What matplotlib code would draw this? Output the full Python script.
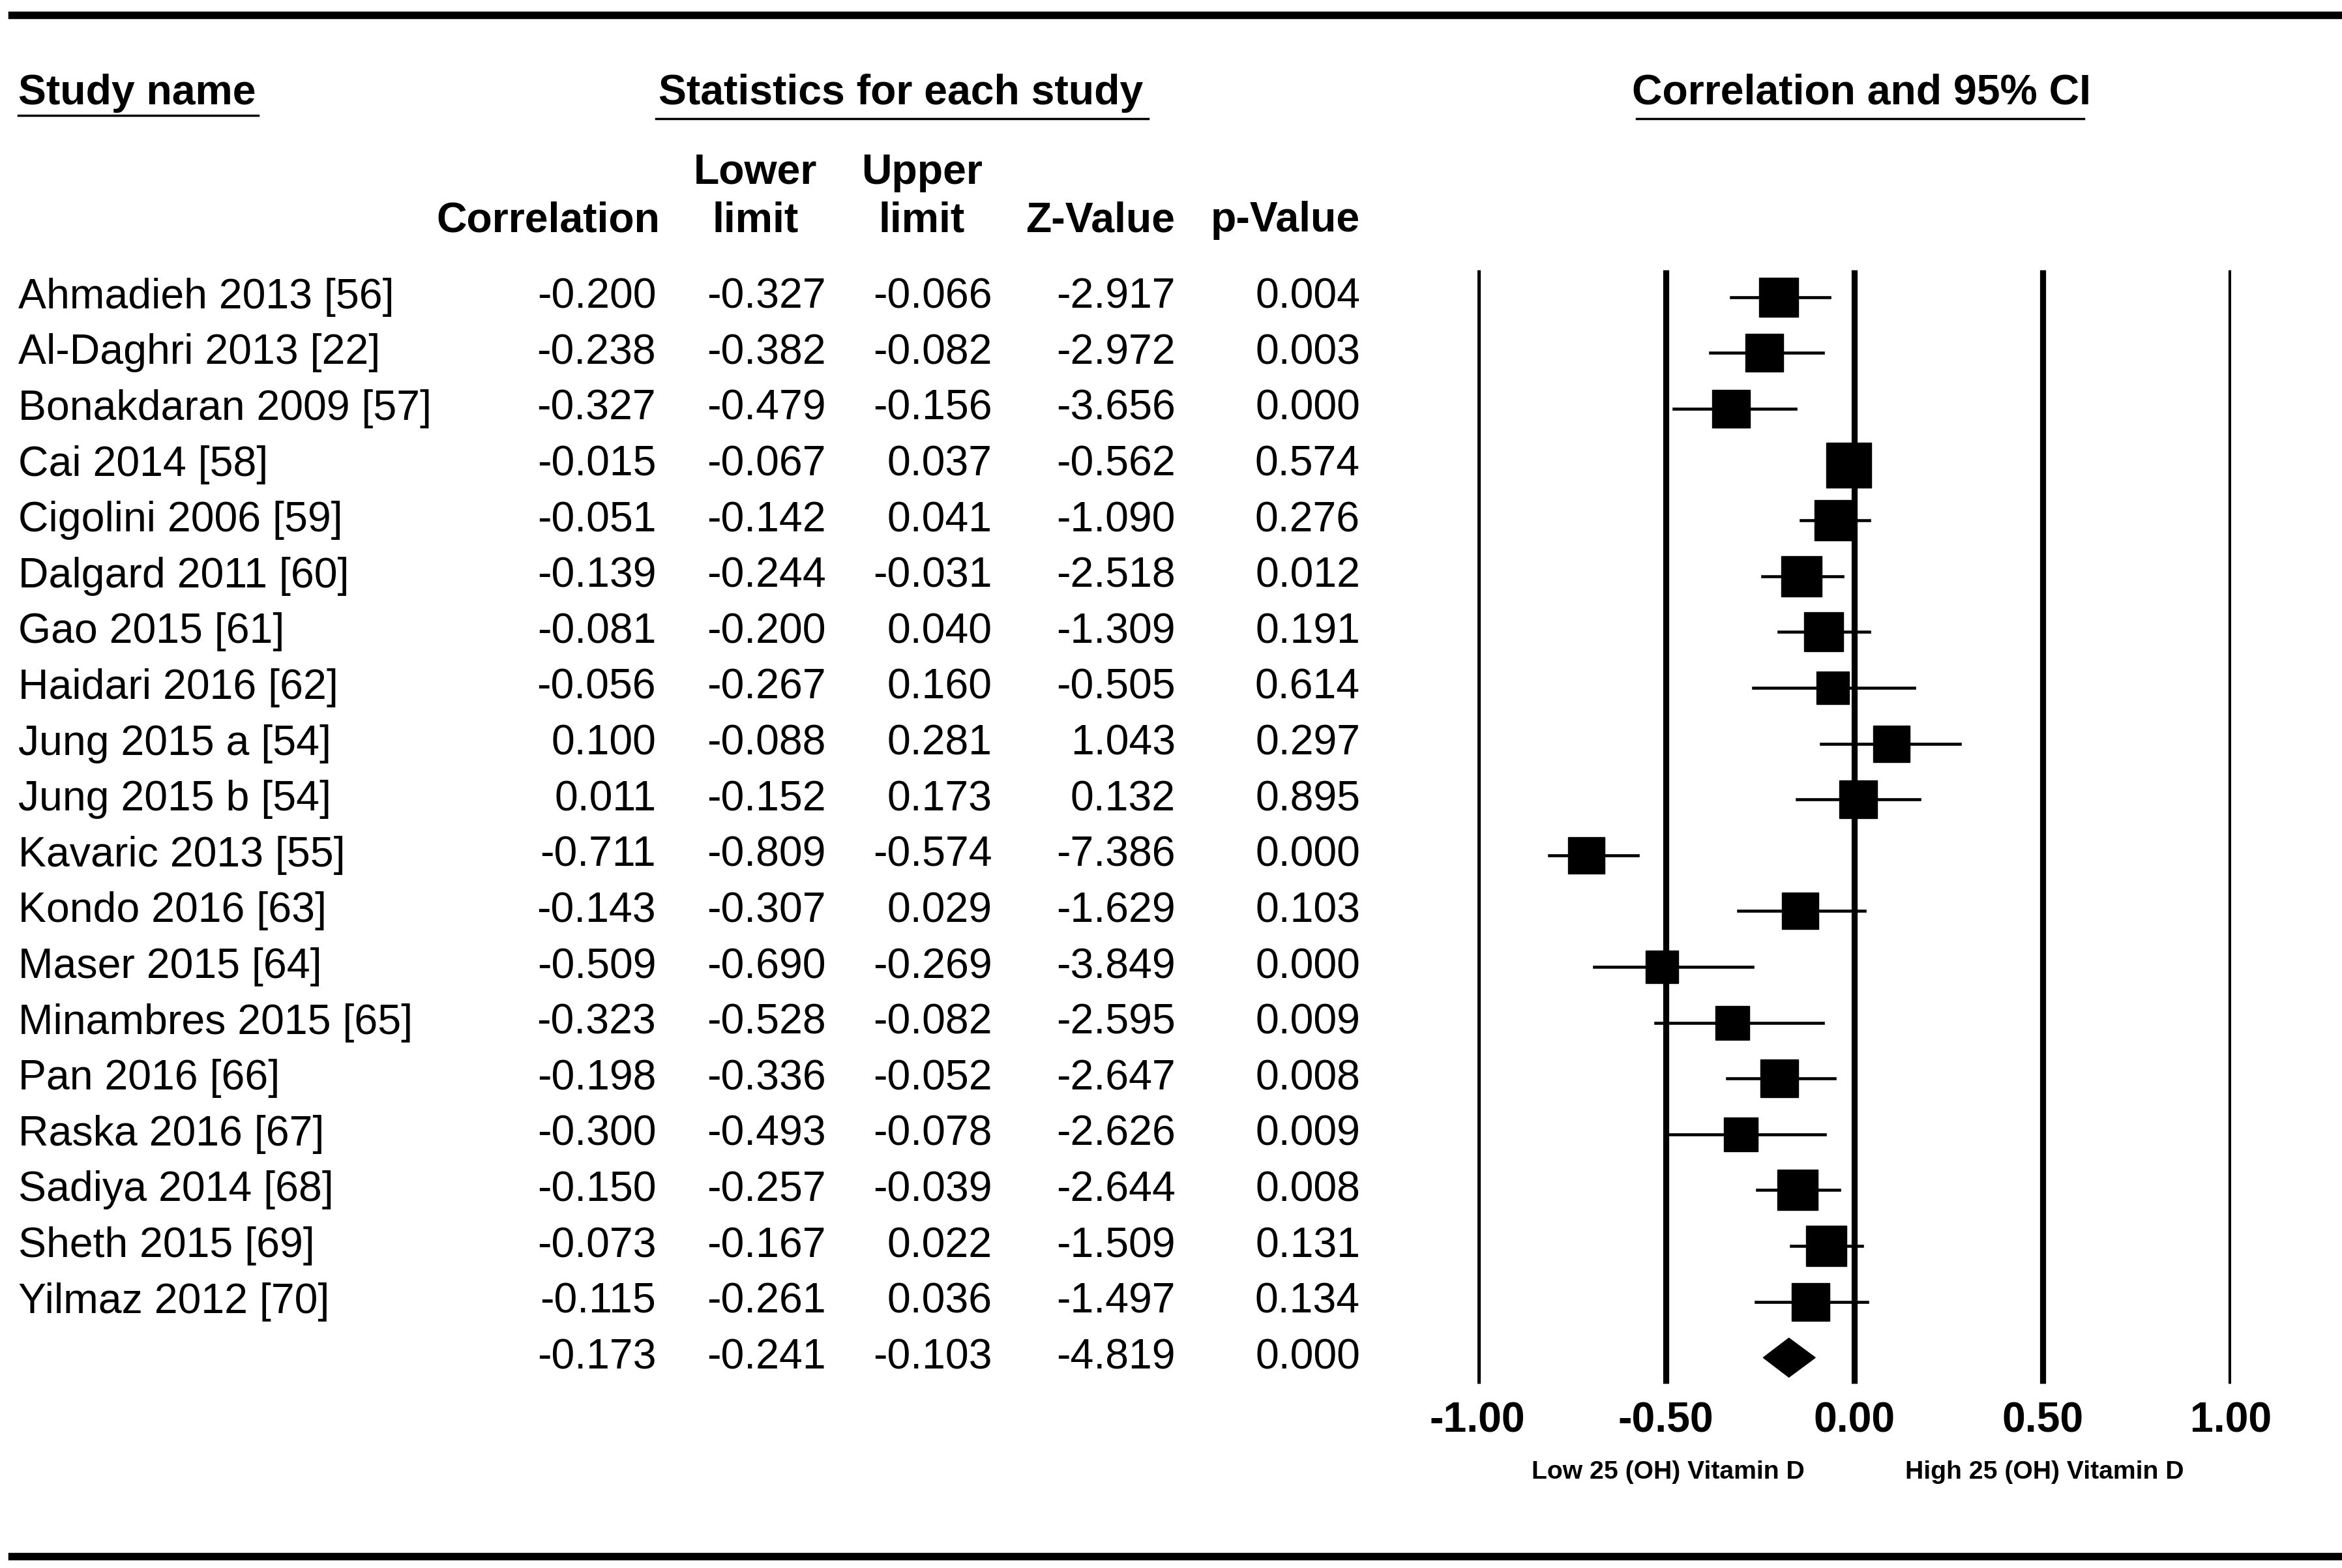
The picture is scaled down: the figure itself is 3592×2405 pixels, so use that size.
import matplotlib
matplotlib.use("Agg")
import matplotlib.pyplot as plt
from matplotlib.patches import Polygon

studies = ["Ahmadieh 2013 [56]", "Al-Daghri 2013 [22]", "Bonakdaran 2009 [57]", "Cai 2014 [58]",
           "Cigolini 2006 [59]", "Dalgard 2011 [60]", "Gao 2015 [61]", "Haidari 2016 [62]",
           "Jung 2015 a [54]", "Jung 2015 b [54]", "Kavaric 2013 [55]", "Kondo 2016 [63]",
           "Maser 2015 [64]", "Minambres 2015 [65]", "Pan 2016 [66]", "Raska 2016 [67]",
           "Sadiya 2014 [68]", "Sheth 2015 [69]", "Yilmaz 2012 [70]"]
corr = [-0.200, -0.238, -0.327, -0.015, -0.051, -0.139, -0.081, -0.056, 0.100, 0.011,
        -0.711, -0.143, -0.509, -0.323, -0.198, -0.300, -0.150, -0.073, -0.115]
lower = [-0.327, -0.382, -0.479, -0.067, -0.142, -0.244, -0.200, -0.267, -0.088, -0.152,
         -0.809, -0.307, -0.690, -0.528, -0.336, -0.493, -0.257, -0.167, -0.261]
upper = [-0.066, -0.082, -0.156, 0.037, 0.041, -0.031, 0.040, 0.160, 0.281, 0.173,
         -0.574, 0.029, -0.269, -0.082, -0.052, -0.078, -0.039, 0.022, 0.036]
zval = [-2.917, -2.972, -3.656, -0.562, -1.090, -2.518, -1.309, -0.505, 1.043, 0.132,
        -7.386, -1.629, -3.849, -2.595, -2.647, -2.626, -2.644, -1.509, -1.497]
pval = [0.004, 0.003, 0.000, 0.574, 0.276, 0.012, 0.191, 0.614, 0.297, 0.895,
        0.000, 0.103, 0.000, 0.009, 0.008, 0.009, 0.008, 0.131, 0.134]
weight = [26, 25, 25, 30, 27, 27, 26, 22, 24, 25, 24, 24, 22, 23, 25, 23, 27, 27, 25]
summary = [-0.173, -0.241, -0.103, -4.819, 0.000]
ticks = [-1.0, -0.5, 0.0, 0.5, 1.0]
tick_labels = ["-1.00", "-0.50", "0.00", "0.50", "1.00"]

S = 1.656  # display px -> pt
plt.rcParams['font.family'] = ['Liberation Sans', 'DejaVu Sans']
fig = plt.figure(figsize=(35.92, 24.05), dpi=100)
base = fig.add_axes([0, 0, 1, 1])
base.set_xlim(0, 1560); base.set_ylim(1045, 0); base.axis('off')

fs = 28 * S
base.plot([8, 1558], [10, 10], color='black', lw=5 * S)
base.plot([8, 1558], [1037, 1037], color='black', lw=5 * S)

base.text(12, 62, "Study name", fontsize=fs, fontweight='bold', va='center', ha='left')
base.plot([12, 172], [77, 77], color='black', lw=1.5 * S)
base.text(600, 62, "Statistics for each study", fontsize=fs, fontweight='bold', va='center', ha='center')
base.plot([437, 765], [79, 79], color='black', lw=1.5 * S)
base.text(1240, 62, "Correlation and 95% CI", fontsize=fs, fontweight='bold', va='center', ha='center')
base.plot([1090, 1388], [79, 79], color='black', lw=1.5 * S)

base.text(365, 147, "Correlation", fontsize=fs, fontweight='bold', va='center', ha='center')
base.text(503, 115, "Lower", fontsize=fs, fontweight='bold', va='center', ha='center')
base.text(503, 147, "limit", fontsize=fs, fontweight='bold', va='center', ha='center')
base.text(614, 115, "Upper", fontsize=fs, fontweight='bold', va='center', ha='center')
base.text(614, 147, "limit", fontsize=fs, fontweight='bold', va='center', ha='center')
base.text(733, 147, "Z-Value", fontsize=fs, fontweight='bold', va='center', ha='center')
base.text(856, 147, "p-Value", fontsize=fs, fontweight='bold', va='center', ha='center')

y0, dy = 198, 37.2
colx = [437, 550, 661, 783, 906]
for i, s in enumerate(studies):
    y = y0 + i * dy
    base.text(12, y, s, fontsize=fs, va='center', ha='left')
    vals = [corr[i], lower[i], upper[i], zval[i], pval[i]]
    for x, v in zip(colx, vals):
        base.text(x, y, f"{v:.3f}", fontsize=fs, va='center', ha='right')
ys = y0 + len(studies) * dy
for x, v in zip(colx, summary):
    base.text(x, ys, f"{v:.3f}", fontsize=fs, va='center', ha='right')

W, H = 1560, 1045
fx0, fx1, fy0, fy1 = 984, 1486, 160, 925
ax = fig.add_axes([fx0 / W, 1 - fy1 / H, (fx1 - fx0) / W, (fy1 - fy0) / H])
ax.set_xlim(-1, 1)
ax.set_ylim((fy1 - y0) / dy, (fy0 - y0) / dy)
ax.axis('off')
for t in ticks:
    ax.plot([t, t], [(180 - y0) / dy, (922 - y0) / dy], color='black', lw=4 * S, solid_capstyle='butt')
for i in range(len(studies)):
    ax.plot([lower[i], upper[i]], [i, i], color='black', lw=2 * S)
    ax.plot(corr[i], i, marker='s', color='black', markersize=weight[i] * S, linestyle='none')
n = len(studies)
ax.add_patch(Polygon([[summary[1], n], [summary[0], n - 0.35], [summary[2], n], [summary[0], n + 0.35]],
                     closed=True, color='black'))

for t, lab in zip(ticks, tick_labels):
    base.text(984 + (t + 1) * 251, 947, lab, fontsize=fs, fontweight='bold', va='center', ha='center')
base.text(1111, 981, "Low 25 (OH) Vitamin D", fontsize=17 * S, fontweight='bold', va='center', ha='center')
base.text(1362, 981, "High 25 (OH) Vitamin D", fontsize=17 * S, fontweight='bold', va='center', ha='center')

fig.savefig("out.png", dpi=100)
